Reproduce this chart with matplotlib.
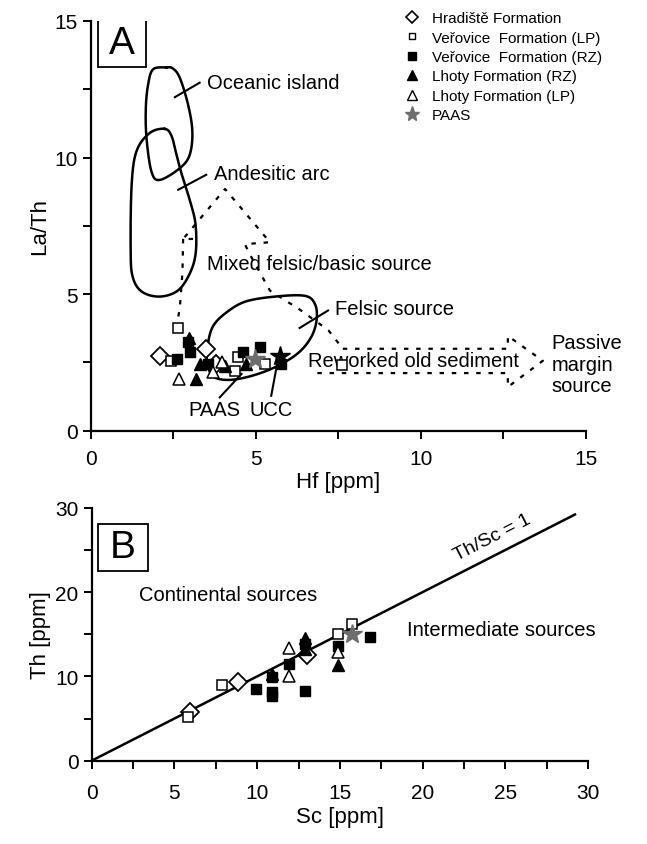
import numpy as np
import matplotlib
matplotlib.use("Agg")
import matplotlib.pyplot as plt
from matplotlib.lines import Line2D
from matplotlib.patches import Rectangle

plt.rcParams['font.family'] = ['Liberation Sans', 'DejaVu Sans']

# ---------------- data: panel A (Hf vs La/Th) ----------------
a_hrad_x = [2.09, 3.5, 3.8]
a_hrad_y = [2.74, 3.0, 2.44]
a_verlp_x = [2.65, 2.44, 4.36, 4.46, 5.27, 7.6]
a_verlp_y = [3.76, 2.57, 2.2, 2.69, 2.44, 2.4]
a_verrz_x = [2.6, 2.95, 3.0, 3.55, 4.6, 5.12, 5.78]
a_verrz_y = [2.63, 3.24, 2.87, 2.44, 2.87, 3.06, 2.44]
a_lhrz_x = [2.98, 3.3, 3.2, 4.06, 4.7]
a_lhrz_y = [3.4, 2.44, 1.9, 2.38, 2.44]
a_lhlp_x = [2.68, 3.7, 3.97]
a_lhlp_y = [1.9, 2.14, 2.5]
a_paas = (4.97, 2.63)
a_ucc = (5.73, 2.72)

# field outlines (Hf, La/Th)
oceanic = [(2.29, 13.3), (1.89, 13.23), (1.74, 12.68), (1.67, 11.82), (1.69, 10.72),
           (1.84, 9.49), (2.09, 9.18), (2.7, 9.61), (3.0, 10.1), (3.08, 10.96),
           (2.95, 11.94), (2.7, 12.92), (2.49, 13.26)]
andesitic = [(2.24, 11.05), (1.79, 10.9), (1.39, 10.24), (1.24, 9.0), (1.21, 6.67),
             (1.27, 5.64), (1.55, 5.09), (2.09, 4.91), (2.64, 5.13), (3.0, 5.75),
             (3.18, 6.49), (3.18, 7.52), (3.03, 8.33), (2.79, 9.25), (2.61, 10.05),
             (2.45, 10.79)]
felsic = [(3.55, 3.18), (3.7, 3.81), (4.06, 4.28), (4.67, 4.72), (5.58, 4.91),
          (6.48, 4.94), (6.79, 4.65), (6.85, 4.1), (6.7, 3.47), (6.33, 2.89),
          (5.73, 2.41), (4.97, 2.04), (4.21, 1.86), (3.7, 2.0), (3.52, 2.56)]
mixed_top = [(3.1, 7.02), (2.8, 7.02), (4.07, 8.85), (5.43, 6.9), (4.67, 6.83),
             (4.82, 6.46), (5.43, 5.13), (6.34, 4.43), (7.2, 3.68), (7.64, 3.0)]
mixed_left = [(2.8, 7.02), (2.78, 5.8), (2.7, 4.5), (2.56, 3.5)]
passive = [(7.64, 3.0), (12.64, 3.0), (12.64, 3.47), (13.7, 2.56), (12.64, 1.6),
           (12.64, 2.11), (6.64, 2.11)]

# ---------------- data: panel B (Sc vs Th) ----------------
b_hrad_x = [5.95, 8.85, 13.0]
b_hrad_y = [5.75, 9.35, 12.5]
b_verlp_x = [5.85, 7.9, 14.9, 15.7]
b_verlp_y = [5.15, 9.0, 15.0, 16.2]
b_verrz_x = [9.9, 10.9, 10.9, 10.9, 11.9, 12.9, 12.9, 14.9, 16.8]
b_verrz_y = [8.5, 8.1, 7.7, 9.9, 11.5, 13.8, 8.3, 13.6, 14.7]
b_lhrz_x = [10.9, 12.9, 12.9, 14.9]
b_lhrz_y = [10.3, 14.5, 13.3, 11.3]
b_lhlp_x = [11.9, 11.9, 14.9]
b_lhlp_y = [13.4, 10.1, 12.9]
b_paas = (15.7, 15.0)

labels = ['Hradiště Formation', 'Veřovice  Formation (LP)', 'Veřovice  Formation (RZ)',
          'Lhoty Formation (RZ)', 'Lhoty Formation (LP)', 'PAAS']


def smooth_closed(pts, n=24):
    p = np.array(pts, dtype=float)
    N = len(p)
    t = np.linspace(0, 1, n, endpoint=False)[:, None]
    segs = []
    for i in range(N):
        p0, p1, p2, p3 = p[i - 1], p[i], p[(i + 1) % N], p[(i + 2) % N]
        segs.append(0.5 * (2 * p1 + (-p0 + p2) * t + (2 * p0 - 5 * p1 + 4 * p2 - p3) * t ** 2
                           + (-p0 + 3 * p1 - 3 * p2 + p3) * t ** 3))
    segs.append(p[:1])
    return np.vstack(segs)


def style_axes(ax, xmax, ymax, xstep, ystep, xpad):
    for s in ['top', 'right']:
        ax.spines[s].set_visible(False)
    for s in ['left', 'bottom']:
        ax.spines[s].set_linewidth(1.6)
    ax.set_xlim(0, xmax)
    ax.set_ylim(0, ymax)
    ax.set_xticks(np.arange(0, xmax + 0.1, xstep))
    ax.set_yticks(np.arange(0, ymax + 0.1, ystep))
    ax.set_xticks(np.arange(0, xmax + 0.1, xstep / 2), minor=True)
    ax.set_yticks(np.arange(0, ymax + 0.1, ystep / 2), minor=True)
    ax.tick_params(which='both', direction='out', length=6, width=1.4, labelsize=15)
    ax.tick_params(axis='x', pad=xpad)


def scatter_sets(ax, sets):
    hrad, verlp, verrz, lhrz, lhlp = sets
    ax.plot(*hrad, 'D', ms=9, mfc='white', mec='black', mew=1.3, ls='none', zorder=5)
    ax.plot(*verlp, 's', ms=7, mfc='white', mec='black', mew=1.1, ls='none', zorder=5)
    ax.plot(*verrz, 's', ms=7, mfc='black', mec='black', ls='none', zorder=5)
    ax.plot(*lhrz, '^', ms=8, mfc='black', mec='black', ls='none', zorder=5)
    ax.plot(*lhlp, '^', ms=8, mfc='white', mec='black', mew=1.1, ls='none', zorder=5)


fig = plt.figure(figsize=(6.47, 8.45), dpi=100)

# ---------------- panel A ----------------
ax = fig.add_axes([0.1402, 0.4891, 0.7651, 0.4849])
style_axes(ax, 15, 15, 5, 5, 7)
ax.set_xlabel('Hf [ppm]', fontsize=16, labelpad=2)
ax.set_ylabel('La/Th', fontsize=16, labelpad=3)

for shape in (oceanic, andesitic, felsic):
    c = smooth_closed(shape)
    ax.plot(c[:, 0], c[:, 1], color='black', lw=1.8, zorder=3)
dot = dict(color='black', lw=1.6, dashes=(2, 3.5), zorder=2)
for path in (mixed_top, mixed_left, passive):
    p = np.array(path)
    ax.plot(p[:, 0], p[:, 1], **dot)

scatter_sets(ax, [(a_hrad_x, a_hrad_y), (a_verlp_x, a_verlp_y), (a_verrz_x, a_verrz_y),
                  (a_lhrz_x, a_lhrz_y), (a_lhlp_x, a_lhlp_y)])
ax.plot(*a_paas, '*', ms=15, color='#6e6e6e', zorder=6)
ax.plot(*a_ucc, '*', ms=15, color='black', zorder=6)

# leader lines and field names
lead = dict(color='black', lw=1.5)
ax.plot([2.55, 3.3], [12.21, 12.74], **lead)
ax.plot([2.65, 3.5], [8.82, 9.37], **lead)
ax.plot([6.33, 7.19], [3.76, 4.4], **lead)
ax.plot([3.91, 4.57], [1.22, 2.08], **lead)
ax.plot([5.47, 5.63], [1.28, 2.32], **lead)
tk = dict(fontsize=14.5, va='center', ha='left')
ax.text(3.52, 12.74, 'Oceanic island', **tk)
ax.text(3.73, 9.43, 'Andesitic arc', **tk)
ax.text(3.52, 6.12, 'Mixed felsic/basic source', **tk)
ax.text(7.39, 4.47, 'Felsic source', **tk)
ax.text(6.58, 2.56, 'Reworked old sediment', **tk)
ax.text(13.97, 2.44, 'Passive\nmargin\nsource', fontsize=14.5, va='center', ha='left',
        linespacing=1.15)
ax.text(3.76, 0.79, 'PAAS', fontsize=14.5, va='center', ha='center')
ax.text(5.48, 0.79, 'UCC', fontsize=14.5, va='center', ha='center')

ax.add_patch(Rectangle((98 / 647, 1 - 68 / 845), 48 / 647, 48 / 845, transform=fig.transFigure,
                       fill=False, lw=1.3, ec='black'))
fig.text(122 / 647, 1 - 44 / 845, 'A', fontsize=28, ha='center', va='center')

handles = [
    Line2D([], [], marker='D', ls='none', ms=6, mfc='white', mec='black', mew=1.2),
    Line2D([], [], marker='s', ls='none', ms=5, mfc='white', mec='black', mew=1.0),
    Line2D([], [], marker='s', ls='none', ms=5.5, mfc='black', mec='black'),
    Line2D([], [], marker='^', ls='none', ms=6.5, mfc='black', mec='black'),
    Line2D([], [], marker='^', ls='none', ms=6.5, mfc='white', mec='black', mew=1.0),
    Line2D([], [], marker='*', ls='none', ms=11, color='#6e6e6e'),
]
fig.legend(handles, labels, loc='upper left', bbox_to_anchor=(403 / 647, 1 - 12 / 845),
           frameon=False, fontsize=11, handlelength=1.2, handletextpad=0.7,
           labelspacing=0.36, borderpad=0, borderaxespad=0)

# ---------------- panel B ----------------
bx = fig.add_axes([0.1417, 0.0986, 0.7674, 0.2993])
style_axes(bx, 30, 30, 5, 10, 10)
bx.set_xticks(np.arange(0, 30.1, 2.5), minor=True)
bx.set_xlabel('Sc [ppm]', fontsize=16, labelpad=3)
bx.set_ylabel('Th [ppm]', fontsize=16, labelpad=3)

bx.plot([0, 29.2], [0, 29.2], color='black', lw=1.8, clip_on=False, zorder=3)
scatter_sets(bx, [(b_hrad_x, b_hrad_y), (b_verlp_x, b_verlp_y), (b_verrz_x, b_verrz_y),
                  (b_lhrz_x, b_lhrz_y), (b_lhlp_x, b_lhlp_y)])
bx.plot(*b_paas, '*', ms=15, color='#6e6e6e', zorder=6)

# rotation of the 1:1 line in screen space
p0 = bx.transData.transform((0, 0))
p1 = bx.transData.transform((30, 30))
ang = np.degrees(np.arctan2(p1[1] - p0[1], p1[0] - p0[0]))
bx.text(24.2, 26.5, 'Th/Sc = 1', fontsize=14, rotation=ang, ha='center', va='center',
        rotation_mode='anchor')
bx.text(2.88, 19.66, 'Continental sources', fontsize=14.5, ha='left', va='center')
bx.text(19.03, 15.6, 'Intermediate sources', fontsize=14.5, ha='left', va='center')

bx.add_patch(Rectangle((98 / 647, 1 - 572 / 845), 50 / 647, 47 / 845, transform=fig.transFigure,
                       fill=False, lw=1.3, ec='black'))
fig.text(123 / 647, 1 - 548.5 / 845, 'B', fontsize=28, ha='center', va='center')

fig.savefig('out.png', dpi=100)
